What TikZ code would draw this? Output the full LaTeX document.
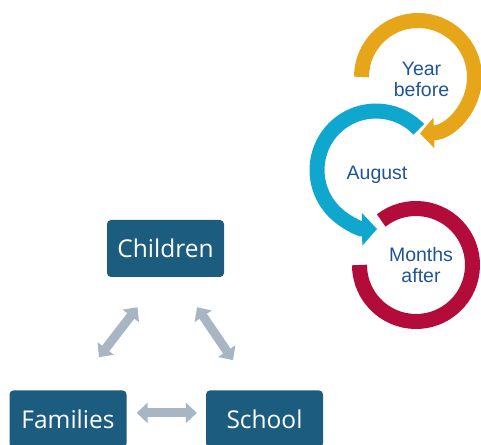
\documentclass[tikz,border=0pt]{standalone}
\usepackage{fontspec}
\setmainfont{Liberation Sans}
\newfontfamily\boxfont{Open Sans}
\usepackage{tikz}
\usetikzlibrary{positioning, arrows.meta}
\definecolor{darkteal}{RGB}{27, 92, 127}
\definecolor{linkgray}{RGB}{168, 181, 195}
\definecolor{ringgold}{RGB}{231, 166, 26}
\definecolor{ringblue}{RGB}{16, 167, 206}
\definecolor{ringred}{RGB}{179, 12, 59}
\definecolor{textblue}{RGB}{31, 84, 150}

\begin{document}
\begin{tikzpicture}[
    x=1pt, y=1pt,
    box/.style={rectangle, fill=darkteal, text=white, minimum width=117pt, minimum height=57pt, inner sep=0pt, rounded corners=4pt, font=\boxfont\fontsize{24.5}{29}\selectfont},
    link/.style={{Triangle[width=20pt,length=11pt]}-{Triangle[width=20pt,length=11pt]}, line width=9pt, linkgray},
    ring/.style={line width=15pt},
    stage/.style={align=center, text=textblue, inner sep=0pt, font=\fontsize{19.5}{21}\selectfont}
]
    \useasboundingbox (0,0) rectangle (481,444);
    \clip (0,0) rectangle (481,444);

    % triangle of boxes
    \node[box] (children) at (165.5,195.5) {Children};
    \node[box, below=113pt of children, xshift=-97.5pt] (families) {Families};
    \node[box, below=113pt of children, xshift=99pt] (school) {School};

    \draw[link] ([xshift=-28pt, yshift=-30pt]children.south) -- ([xshift=31pt, yshift=33pt]families.north);
    \draw[link] ([xshift=31.5pt, yshift=-30pt]children.south) -- ([xshift=-31.5pt, yshift=30pt]school.north);
    \draw[link] ([xshift=10pt, yshift=6pt]families.east) -- ([xshift=-9pt, yshift=6pt]school.west);

    % circular arrows
    \coordinate (yearc) at (418,367);
    \coordinate (augc) at (376,274);
    \coordinate (afterc) at (416,179);

    \draw[ring, ringgold, -{Triangle[width=30pt,length=14pt]}] ([shift={(180:56.5)}]yearc) arc[start angle=180, end angle=-88, radius=56.5];
    \draw[ring, ringblue, -{Triangle[width=32pt,length=15pt]}] ([shift={(43.6:59)}]augc) arc[start angle=43.6, end angle=271, radius=59];
    \draw[ring, ringred] ([shift={(128:56.5)}]afterc) arc[start angle=128, end angle=-180, radius=56.5];

    \node[stage] (year) at (421.5,364.5) {Year\\before};
    \node[stage] (august) at (377,269) {August};
    \node[stage] (after) at (421,179) {Months\\after};
\end{tikzpicture}
\end{document}
